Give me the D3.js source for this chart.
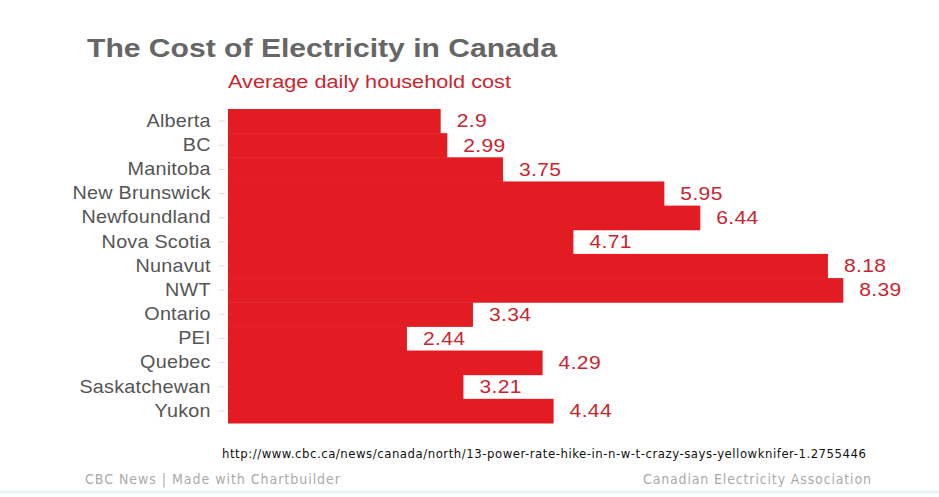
<!DOCTYPE html>
<html>
<head>
<meta charset="utf-8">
<script src="https://cdn.jsdelivr.net/npm/d3@7"></script>
<style>
  body { margin: 0; background: #fff; }
</style>
</head>
<body>
<div id="chart"></div>
<script>
// provinces / territories and the average daily cost
const provinces = ["Alberta", "BC", "Manitoba", "New Brunswick", "Newfoundland", "Nova Scotia",
  "Nunavut", "NWT", "Ontario", "PEI", "Quebec", "Saskatchewan", "Yukon"];
const costs = [2.9, 2.99, 3.75, 5.95, 6.44, 4.71, 8.18, 8.39, 3.34, 2.44, 4.29, 3.21, 4.44];

const width = 939;
const height = 497;

const svg = d3.select("#chart")
  .append("svg")
  .attr("width", width)
  .attr("height", height);

// escalas
const x = d3.scaleLinear().domain([0, 8.39]).range([228, 843.3]);
const y = d3.scaleBand().domain(provinces).range([109, 423]).padding(0);

const font = "'Liberation Sans', Arial, sans-serif";
const narrow = "'Liberation Sans Narrow', 'DejaVu Sans Condensed', sans-serif";
const stretch = 1.1; // o original parece esticado na horizontal

// titulo
svg.append("text")
  .attr("x", 87)
  .attr("y", 57)
  .attr("font-family", font)
  .attr("font-weight", "bold")
  .attr("font-size", "26px")
  .attr("fill", "#666")
  .attr("textLength", 470)
  .attr("lengthAdjust", "spacingAndGlyphs")
  .text("The Cost of Electricity in Canada");

svg.append("text")
  .attr("x", 228)
  .attr("y", 88)
  .attr("font-family", font)
  .attr("font-size", "18px")
  .attr("fill", "#c9252f")
  .attr("textLength", 283)
  .attr("lengthAdjust", "spacingAndGlyphs")
  .text("Average daily household cost");

// barras
svg.selectAll("rect.bar")
  .data(provinces)
  .enter()
  .append("rect")
  .attr("class", "bar")
  .attr("x", x(0))
  .attr("y", d => y(d))
  .attr("width", (d, i) => x(costs[i]) - x(0))
  .attr("height", y.bandwidth() + 0.5)
  .attr("fill", "#e31b23");

// eixo y com pequenos ticks
const yAxis = svg.append("g")
  .attr("transform", `translate(${x(0) - 3},0)`)
  .call(d3.axisLeft(y).tickSize(6).tickPadding(7));
yAxis.select(".domain").remove();
yAxis.selectAll(".tick line").attr("stroke", "#ddd");
yAxis.selectAll(".tick text")
  .attr("font-family", font)
  .attr("font-size", "18px")
  .attr("letter-spacing", "0.2px")
  .attr("transform", `scale(${stretch},1)`)
  .attr("fill", "#555");

// rotulos de valor
svg.selectAll("text.value")
  .data(provinces)
  .enter()
  .append("text")
  .attr("class", "value")
  .attr("transform", (d, i) => `translate(${x(costs[i]) + 16},${y(d) + y.bandwidth() / 2}) scale(1.17,1)`)
  .attr("dy", "0.35em")
  .attr("font-family", font)
  .attr("font-size", "18px")
  .attr("letter-spacing", "0.3px")
  .attr("fill", "#c9252f")
  .text((d, i) => costs[i]);

// fonte / rodape
svg.append("text")
  .attr("x", 222)
  .attr("y", 458)
  .attr("font-family", narrow)
  .attr("font-size", "13px")
  .attr("fill", "#111")
  .attr("textLength", 644)
  .text("http://www.cbc.ca/news/canada/north/13-power-rate-hike-in-n-w-t-crazy-says-yellowknifer-1.2755446");

svg.append("text")
  .attr("x", 85)
  .attr("y", 484)
  .attr("font-family", narrow)
  .attr("font-size", "14px")
  .attr("fill", "#aaa")
  .attr("textLength", 255)
  .text("CBC News | Made with Chartbuilder");

svg.append("text")
  .attr("x", 643)
  .attr("y", 484)
  .attr("font-family", narrow)
  .attr("font-size", "14px")
  .attr("fill", "#aaa")
  .attr("textLength", 228)
  .text("Canadian Electricity Association");

svg.append("line")
  .attr("x1", 0).attr("x2", width)
  .attr("y1", 492).attr("y2", 492)
  .attr("stroke", "#eef4fa")
  .attr("stroke-width", 3);
</script>
</body>
</html>
